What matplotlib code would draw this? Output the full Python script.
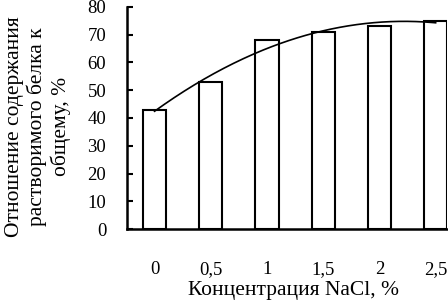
import numpy as np
import matplotlib.pyplot as plt

# data
conc = ['0', '0,5', '1', '1,5', '2', '2,5']
ratio = [43, 53, 68, 71, 73, 75]

plt.rcParams['font.family'] = ['Liberation Serif', 'DejaVu Serif']
plt.rcParams['font.size'] = 13.5

fig = plt.figure(figsize=(4.48, 3.01), dpi=100)
ax = fig.add_axes([0.2835, 0.239, 0.714, 0.738])

x = np.arange(len(conc))
ax.bar(x, ratio, width=0.41, color='white', edgecolor='black', linewidth=1.5, zorder=2)

# quadratic trend line (like Excel's polynomial trendline)
coef = np.polyfit(x + 1, ratio, 2)
xs = np.linspace(0, len(conc) - 1, 200)
ax.plot(xs, np.polyval(coef, xs + 1), color='black', linewidth=1.2, zorder=3)

ax.set_xlim(-0.49, 5.2)
ax.set_ylim(0, 80)
ax.set_yticks(range(0, 81, 10))
ax.set_xticks(x)
ax.set_xticklabels(conc)

for s in ['top', 'right']:
    ax.spines[s].set_visible(False)
ax.spines['left'].set_linewidth(1.8)
ax.spines['bottom'].set_linewidth(1.8)

ax.tick_params(axis='y', direction='in', length=4, width=1.5, pad=15)
ax.tick_params(axis='x', length=0, pad=23)

ax.set_xlabel('Концентрация NaCl, %', fontsize=15.5, labelpad=2)
ax.xaxis.label.set_x(0.52)
ax.set_ylabel('Отношение содержания\nрастворимого белка к\nобщему, %', fontsize=15.5,
              linespacing=1.2, labelpad=12)
ax.yaxis.label.set_y(0.46)

fig.savefig('out.png', dpi=100)
